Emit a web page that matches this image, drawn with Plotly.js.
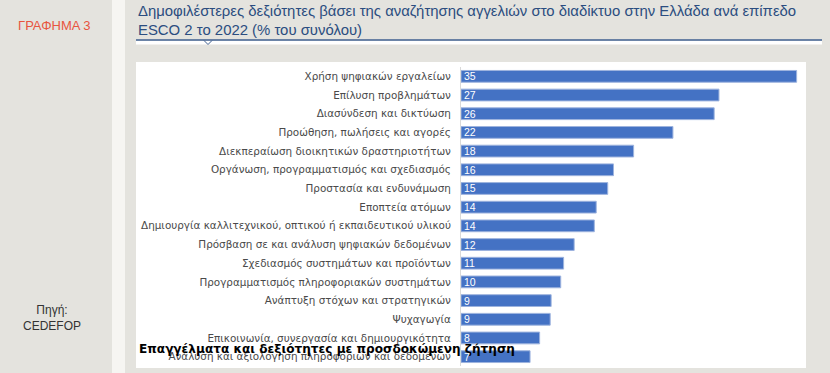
<!DOCTYPE html>
<html>
<head>
<meta charset="utf-8">
<script src="https://cdn.plot.ly/plotly-3.0.1.min.js"></script>
<style>html,body{margin:0;padding:0;background:#e4e3de;}#chart{width:830px;height:373px;}</style>
</head>
<body>
<div id="chart"></div>
<script>
const skills = [
  "Χρήση ψηφιακών εργαλείων",
  "Επίλυση προβλημάτων",
  "Διασύνδεση και δικτύωση",
  "Προώθηση, πωλήσεις και αγορές",
  "Διεκπεραίωση διοικητικών δραστηριοτήτων",
  "Οργάνωση, προγραμματισμός και σχεδιασμός",
  "Προστασία και ενδυνάμωση",
  "Εποπτεία ατόμων",
  "Δημιουργία καλλιτεχνικού, οπτικού ή εκπαιδευτικού υλικού",
  "Πρόσβαση σε και ανάλυση ψηφιακών δεδομένων",
  "Σχεδιασμός συστημάτων και προϊόντων",
  "Προγραμματισμός πληροφοριακών συστημάτων",
  "Ανάπτυξη στόχων και στρατηγικών",
  "Ψυχαγωγία",
  "Επικοινωνία, συνεργασία και δημιουργικότητα",
  "Ανάλυση και αξιολόγηση πληροφοριών και δεδομένων"
];
const shares = [35, 26.9, 26.4, 22.1, 18.0, 15.9, 15.3, 14.1, 13.9, 11.8, 10.7, 10.4, 9.4, 9.3, 8.2, 7.2];

const chartTitle = "Δημοφιλέστερες δεξιότητες βάσει της αναζήτησης αγγελιών στο διαδίκτυο στην Ελλάδα ανά επίπεδο<br>ESCO 2 το 2022 (% του συνόλου)";
const figLabel = "ΓΡΑΦΗΜΑ 3";
const sourceLabel = "Πηγή:<br>CEDEFOP";
const overlayLabel = "Επαγγέλματα και δεξιότητες με προσδοκώμενη ζήτηση";

const W = 830, H = 373;
const M = {l: 461, r: 30, t: 67, b: 7};
const PW = W - M.l - M.r, PH = H - M.t - M.b;
const px = x => (x - M.l) / PW;
const py = y => (H - M.b - y) / PH;

const trace = {
  type: "bar",
  orientation: "h",
  y: skills,
  x: shares,
  marker: {color: "#4472c4", line: {color: "#9db3de", width: 1}},
  texttemplate: "%{x:.0f}",
  textposition: "inside",
  insidetextanchor: "start",
  textangle: 0,
  constraintext: "none",
  textfont: {family: "Liberation Sans, Arial, sans-serif", size: 10.5, color: "#ffffff"},
  hoverinfo: "skip",
  cliponaxis: false
};

const layout = {
  width: W, height: H,
  margin: M,
  paper_bgcolor: "#e4e3de",
  plot_bgcolor: "rgba(0,0,0,0)",
  showlegend: false,
  bargap: 0.37,
  xaxis: {range: [0, 35.35], visible: false, fixedrange: true},
  yaxis: {
    autorange: "reversed",
    showline: true, linecolor: "#d9d9d9", linewidth: 1,
    ticks: "", showgrid: false, zeroline: false,
    ticklabelstandoff: 7,
    tickfont: {family: "DejaVu Sans, sans-serif", size: 10.4, color: "#4a4a4a"},
    fixedrange: true
  },
  shapes: [
    {type: "rect", xref: "paper", yref: "paper", x0: px(112), x1: px(125), y0: py(0), y1: py(373), fillcolor: "#f6f5f2", line: {width: 0}, layer: "below"},
    {type: "rect", xref: "paper", yref: "paper", x0: px(136), x1: px(806), y0: py(62), y1: py(368), fillcolor: "#ffffff", line: {width: 0}, layer: "below"},
    {type: "rect", xref: "paper", yref: "paper", x0: px(136), x1: px(822), y0: py(40.5), y1: py(44.5), fillcolor: "#ffffff", line: {width: 0}, layer: "below"},
    {type: "line", xref: "paper", yref: "paper", x0: px(136), x1: px(822), y0: py(40), y1: py(40), line: {color: "#3f5f8f", width: 1.5}},
    {type: "path", xref: "paper", yref: "paper",
     path: "M" + px(204) + "," + py(40.5) + " L" + px(208) + "," + py(44.5) + " L" + px(212) + "," + py(40.5),
     line: {color: "#3f5f8f", width: 1}}
  ],
  annotations: [
    {xref: "paper", yref: "paper", x: px(136), y: py(1), xanchor: "left", yanchor: "top", align: "left",
     text: chartTitle, showarrow: false,
     font: {family: "Liberation Sans, Arial, sans-serif", size: 14.9, color: "#2b4d80"}},
    {xref: "paper", yref: "paper", x: px(54), y: py(25), xanchor: "center", yanchor: "middle",
     text: figLabel, showarrow: false,
     font: {family: "Liberation Sans, Arial, sans-serif", size: 13, color: "#e8553f"}},
    {xref: "paper", yref: "paper", x: px(52), y: py(318), xanchor: "center", yanchor: "middle", align: "center",
     text: sourceLabel, showarrow: false,
     font: {family: "Liberation Sans, Arial, sans-serif", size: 12, color: "#333333"}},
    {xref: "paper", yref: "paper", x: px(137), y: py(349), xanchor: "left", yanchor: "middle",
     text: "<b>" + overlayLabel + "</b>", showarrow: false,
     font: {family: "DejaVu Sans, sans-serif", size: 12.1, color: "#000000"}}
  ]
};

Plotly.newPlot("chart", [trace], layout, {displayModeBar: false, staticPlot: true});
</script>
</body>
</html>
